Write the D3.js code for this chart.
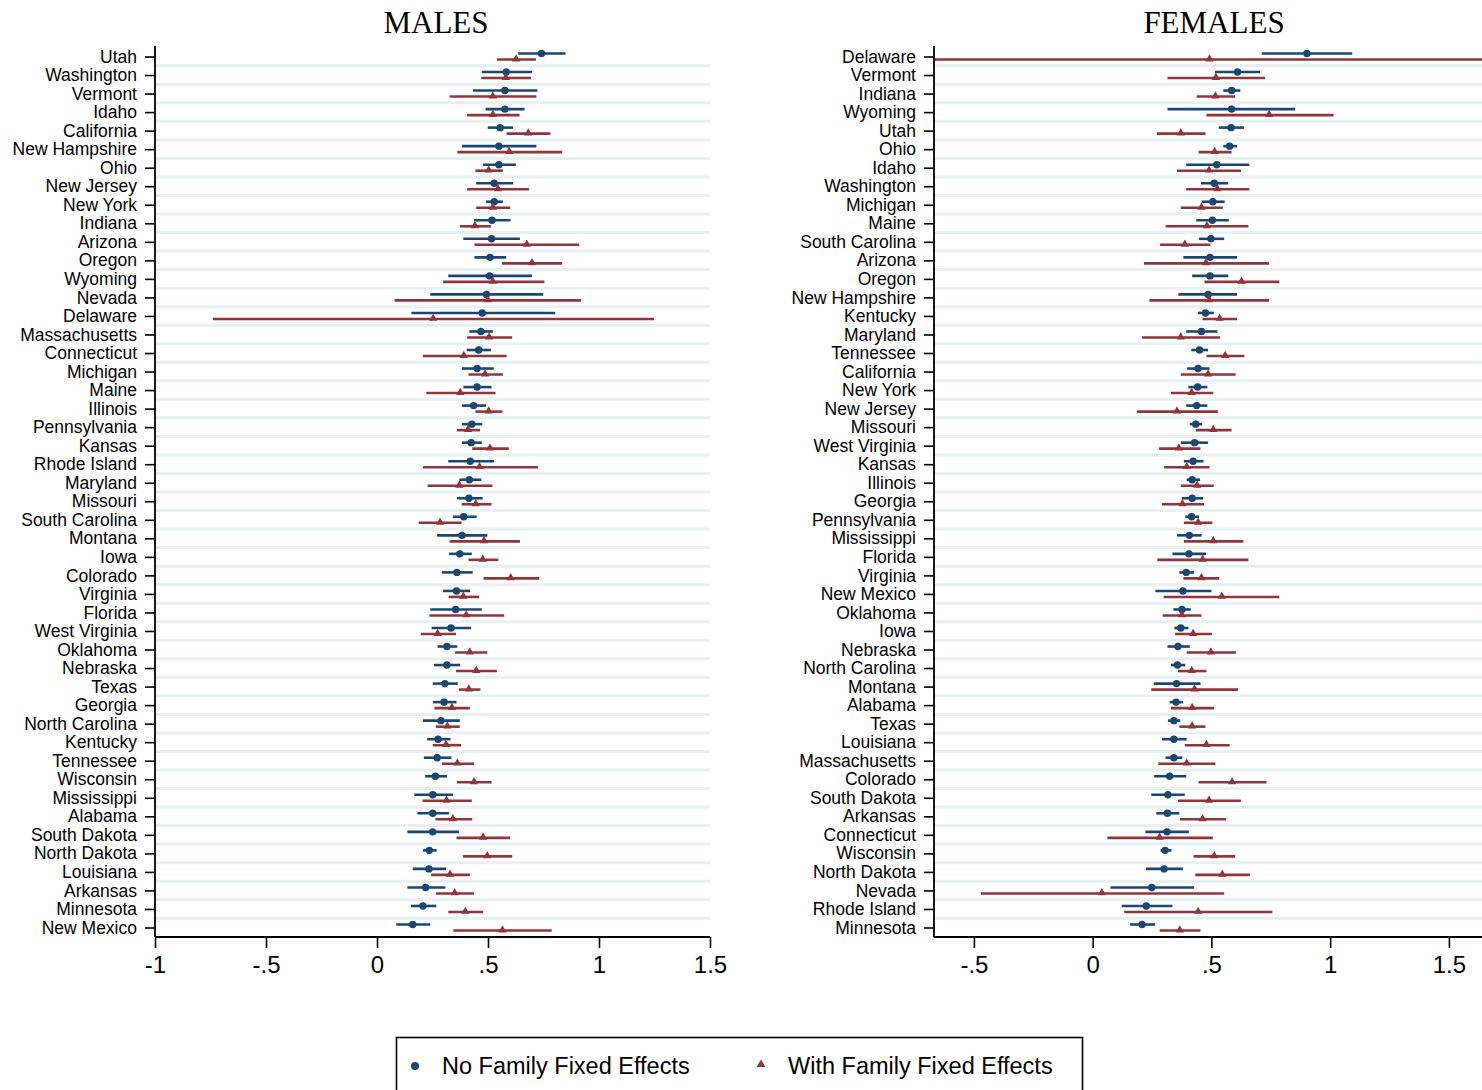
<!DOCTYPE html>
<html>
<head>
<meta charset="utf-8">
<script src="https://cdn.jsdelivr.net/npm/d3@7"></script>
<style>
  html, body { margin: 0; padding: 0; background: #fff; }
  svg { display: block; }
</style>
</head>
<body>
<svg id="chart" width="1482" height="1090"></svg>
<script>
// ---- Data: state coefficients with 95% confidence bounds ----
const maleStates = ["Utah","Washington","Vermont","Idaho","California","New Hampshire","Ohio","New Jersey","New York","Indiana","Arizona","Oregon","Wyoming","Nevada","Delaware","Massachusetts","Connecticut","Michigan","Maine","Illinois","Pennsylvania","Kansas","Rhode Island","Maryland","Missouri","South Carolina","Montana","Iowa","Colorado","Virginia","Florida","West Virginia","Oklahoma","Nebraska","Texas","Georgia","North Carolina","Kentucky","Tennessee","Wisconsin","Mississippi","Alabama","South Dakota","North Dakota","Louisiana","Arkansas","Minnesota","New Mexico"];
const maleNoFE   = [0.741,0.582,0.576,0.576,0.555,0.549,0.549,0.528,0.528,0.518,0.516,0.509,0.507,0.493,0.474,0.468,0.458,0.451,0.451,0.435,0.427,0.424,0.420,0.416,0.414,0.391,0.383,0.373,0.360,0.358,0.354,0.333,0.315,0.315,0.306,0.302,0.288,0.275,0.271,0.263,0.251,0.251,0.251,0.236,0.234,0.219,0.207,0.161];
const maleNoFELo = [0.636,0.472,0.433,0.489,0.499,0.383,0.478,0.447,0.491,0.437,0.389,0.439,0.321,0.240,0.155,0.416,0.404,0.383,0.389,0.383,0.383,0.383,0.321,0.371,0.360,0.342,0.271,0.325,0.292,0.298,0.240,0.246,0.273,0.257,0.251,0.253,0.207,0.226,0.211,0.217,0.168,0.182,0.137,0.207,0.161,0.137,0.153,0.087];
const maleNoFEHi = [0.849,0.698,0.723,0.665,0.613,0.718,0.625,0.613,0.567,0.602,0.644,0.582,0.698,0.749,0.803,0.522,0.513,0.526,0.516,0.491,0.474,0.472,0.528,0.470,0.476,0.449,0.497,0.427,0.431,0.420,0.472,0.424,0.362,0.375,0.364,0.358,0.373,0.331,0.335,0.315,0.342,0.325,0.369,0.269,0.311,0.308,0.267,0.240];
const maleFE     = [0.627,0.580,0.522,0.522,0.681,0.596,0.503,0.545,0.522,0.441,0.675,0.698,0.522,0.499,0.253,0.505,0.391,0.487,0.375,0.503,0.410,0.509,0.462,0.371,0.445,0.284,0.482,0.476,0.602,0.389,0.402,0.273,0.418,0.447,0.414,0.337,0.317,0.311,0.362,0.437,0.313,0.342,0.478,0.497,0.329,0.350,0.398,0.565];
const maleFELo   = [0.540,0.470,0.327,0.406,0.584,0.362,0.443,0.406,0.447,0.373,0.439,0.563,0.298,0.079,-0.739,0.406,0.207,0.412,0.222,0.443,0.360,0.429,0.207,0.228,0.381,0.188,0.327,0.412,0.480,0.323,0.236,0.197,0.352,0.356,0.369,0.259,0.265,0.251,0.292,0.360,0.205,0.263,0.358,0.387,0.244,0.265,0.321,0.344];
const maleFEHi   = [0.716,0.694,0.718,0.642,0.781,0.834,0.567,0.685,0.600,0.513,0.911,0.834,0.754,0.919,1.248,0.609,0.584,0.567,0.534,0.565,0.464,0.594,0.725,0.520,0.516,0.381,0.644,0.547,0.731,0.460,0.573,0.356,0.497,0.540,0.466,0.418,0.373,0.379,0.437,0.516,0.427,0.429,0.600,0.609,0.418,0.437,0.478,0.787];

const femaleStates = ["Delaware","Vermont","Indiana","Wyoming","Utah","Ohio","Idaho","Washington","Michigan","Maine","South Carolina","Arizona","Oregon","New Hampshire","Kentucky","Maryland","Tennessee","California","New York","New Jersey","Missouri","West Virginia","Kansas","Illinois","Georgia","Pennsylvania","Mississippi","Florida","Virginia","New Mexico","Oklahoma","Iowa","Nebraska","North Carolina","Montana","Alabama","Texas","Louisiana","Massachusetts","Colorado","South Dakota","Arkansas","Connecticut","Wisconsin","North Dakota","Nevada","Rhode Island","Minnesota"];
const femaleNoFE   = [0.902,0.610,0.585,0.585,0.583,0.577,0.523,0.512,0.506,0.504,0.498,0.494,0.494,0.486,0.475,0.458,0.450,0.444,0.442,0.438,0.434,0.429,0.423,0.419,0.419,0.417,0.407,0.405,0.394,0.380,0.376,0.371,0.359,0.357,0.353,0.351,0.342,0.342,0.342,0.324,0.317,0.315,0.313,0.305,0.301,0.249,0.226,0.208];
const femaleNoFELo = [0.712,0.515,0.550,0.315,0.531,0.550,0.394,0.456,0.459,0.436,0.448,0.382,0.419,0.361,0.444,0.394,0.415,0.398,0.403,0.394,0.409,0.371,0.384,0.396,0.375,0.390,0.355,0.336,0.365,0.264,0.340,0.344,0.315,0.330,0.257,0.324,0.317,0.292,0.307,0.259,0.247,0.268,0.222,0.286,0.224,0.075,0.122,0.158];
const femaleNoFEHi = [1.093,0.705,0.622,0.853,0.637,0.608,0.660,0.571,0.556,0.573,0.554,0.608,0.571,0.608,0.510,0.525,0.486,0.492,0.483,0.483,0.461,0.486,0.467,0.452,0.465,0.448,0.459,0.477,0.427,0.500,0.413,0.403,0.409,0.390,0.454,0.380,0.369,0.396,0.378,0.394,0.388,0.365,0.405,0.332,0.380,0.427,0.336,0.263];
const femaleFE     = [0.492,0.519,0.517,0.743,0.371,0.514,0.490,0.525,0.458,0.481,0.388,0.477,0.627,0.490,0.535,0.371,0.558,0.486,0.417,0.355,0.508,0.363,0.396,0.440,0.378,0.444,0.508,0.463,0.458,0.544,0.376,0.423,0.498,0.417,0.429,0.419,0.419,0.479,0.396,0.587,0.490,0.463,0.282,0.512,0.546,0.039,0.444,0.367];
const femaleFELo   = [-0.668,0.315,0.438,0.479,0.270,0.446,0.355,0.394,0.371,0.307,0.284,0.216,0.471,0.239,0.463,0.208,0.479,0.371,0.330,0.187,0.434,0.280,0.301,0.371,0.292,0.384,0.384,0.272,0.382,0.299,0.295,0.347,0.396,0.359,0.247,0.330,0.365,0.388,0.276,0.446,0.359,0.367,0.062,0.425,0.432,-0.471,0.133,0.282];
const femaleFEHi   = [1.652,0.726,0.600,1.014,0.475,0.585,0.625,0.660,0.548,0.656,0.496,0.743,0.786,0.743,0.608,0.537,0.639,0.602,0.508,0.527,0.585,0.454,0.492,0.510,0.469,0.504,0.635,0.656,0.533,0.786,0.458,0.502,0.604,0.479,0.612,0.512,0.475,0.577,0.517,0.732,0.624,0.562,0.506,0.600,0.662,0.554,0.757,0.454];

const tickValues = [-1, -0.5, 0, 0.5, 1, 1.5];
const tickLabels = ["-1", "-.5", "0", ".5", "1", "1.5"];
const panelTitles = ["MALES", "FEMALES"];
const legendLabels = ["No Family Fixed Effects", "With Family Fixed Effects"];

// ---- Styling ----
const NAVY = "#1a476f";
const MAROON = "#90353b";
const GRID = "#e8f0f2";
const SANS = "'Liberation Sans', Arial, Helvetica, sans-serif";
const SERIF = "'Liberation Serif', 'Times New Roman', Times, serif";

const svg = d3.select("#chart");
const plotTop = 46, plotBottom = 937;

function buildRows(states, b, bLo, bHi, f, fLo, fHi) {
  return states.map((s, i) => ({
    state: s, b: b[i], bLo: bLo[i], bHi: bHi[i], f: f[i], fLo: fLo[i], fHi: fHi[i]
  }));
}

function drawPanel(opts) {
  const { rows, x, left, right, title, titleX, id, ticks } = opts;
  const g = svg.append("g");

  const y = d3.scalePoint()
    .domain(rows.map(d => d.state))
    .range([56.5, 927.5]);
  const step = y.step();

  // Clip marks to the plot region
  svg.append("defs").append("clipPath").attr("id", id)
    .append("rect")
    .attr("x", left).attr("y", plotTop)
    .attr("width", right - left).attr("height", plotBottom - plotTop);

  const plot = g.append("g").attr("clip-path", `url(#${id})`);

  // Light separators between rows
  plot.selectAll("line.sep")
    .data(rows.slice(0, -1))
    .join("line")
    .attr("x1", left).attr("x2", right)
    .attr("y1", d => y(d.state) + step / 2)
    .attr("y2", d => y(d.state) + step / 2)
    .attr("stroke", GRID).attr("stroke-width", 3);

  // Confidence intervals, without family fixed effects
  plot.selectAll("line.ciB")
    .data(rows).join("line")
    .attr("x1", d => x(d.bLo)).attr("x2", d => x(d.bHi))
    .attr("y1", d => y(d.state) - 3).attr("y2", d => y(d.state) - 3)
    .attr("stroke", NAVY).attr("stroke-width", 2.6);

  // Confidence intervals, with family fixed effects
  plot.selectAll("line.ciF")
    .data(rows).join("line")
    .attr("x1", d => x(d.fLo)).attr("x2", d => x(d.fHi))
    .attr("y1", d => y(d.state) + 3).attr("y2", d => y(d.state) + 3)
    .attr("stroke", MAROON).attr("stroke-width", 2.6);

  plot.selectAll("circle.ptB")
    .data(rows).join("circle")
    .attr("cx", d => x(d.b)).attr("cy", d => y(d.state) - 3)
    .attr("r", 3.7).attr("fill", NAVY);

  const tri = d3.symbol().type(d3.symbolTriangle).size(30);
  plot.selectAll("path.ptF")
    .data(rows).join("path")
    .attr("d", tri)
    .attr("transform", d => `translate(${x(d.f)},${y(d.state) + 2.5})`)
    .attr("fill", MAROON);

  // Y axis with state names
  const yAxis = d3.axisLeft(y).tickSize(10).tickPadding(8);
  const ya = g.append("g").attr("transform", `translate(${left},0)`).call(yAxis);
  ya.select(".domain").attr("d", `M0,${plotTop}V${plotBottom}`).attr("stroke", "#000").attr("stroke-width", 1.8);
  ya.selectAll(".tick line").attr("stroke", "#000").attr("stroke-width", 1.6);
  ya.selectAll(".tick text")
    .attr("font-family", SANS).attr("font-size", 17.5).attr("fill", "#000");

  // X axis
  const xAxis = d3.axisBottom(x)
    .tickValues(ticks)
    .tickFormat(v => tickLabels[tickValues.indexOf(v)])
    .tickSize(11).tickPadding(8);
  const xa = g.append("g").attr("transform", `translate(0,${plotBottom})`).call(xAxis);
  xa.select(".domain").attr("d", `M${left},0H${right}`).attr("stroke", "#000").attr("stroke-width", 1.8);
  xa.selectAll(".tick line").attr("stroke", "#000").attr("stroke-width", 1.6);
  xa.selectAll(".tick text")
    .attr("font-family", SANS).attr("font-size", 24).attr("fill", "#000");

  // Panel title
  g.append("text")
    .attr("x", titleX).attr("y", 33)
    .attr("text-anchor", "middle")
    .attr("font-family", SERIF).attr("font-size", 31).attr("fill", "#000")
    .text(title);
}

// Males panel
const xMale = d3.scaleLinear().domain([-1, 1.5]).range([155, 710]);
drawPanel({
  rows: buildRows(maleStates, maleNoFE, maleNoFELo, maleNoFEHi, maleFE, maleFELo, maleFEHi),
  x: xMale, left: 155, right: 710, title: panelTitles[0], titleX: 436, id: "clipM",
  ticks: tickValues
});

// Females panel (axis spans the widest interval)
const xFemale = d3.scaleLinear().domain([-0.668, 1.652]).range([934, 1485]);
drawPanel({
  rows: buildRows(femaleStates, femaleNoFE, femaleNoFELo, femaleNoFEHi, femaleFE, femaleFELo, femaleFEHi),
  x: xFemale, left: 934, right: 1485, title: panelTitles[1], titleX: 1214, id: "clipF",
  ticks: tickValues.slice(1)
});

// Legend
const legend = svg.append("g");
legend.append("rect")
  .attr("x", 396.5).attr("y", 1037.5).attr("width", 686).attr("height", 70)
  .attr("fill", "#fff").attr("stroke", "#000").attr("stroke-width", 1.6);
legend.append("circle").attr("cx", 415).attr("cy", 1066).attr("r", 4).attr("fill", NAVY);
legend.append("path")
  .attr("d", d3.symbol().type(d3.symbolTriangle).size(34))
  .attr("transform", "translate(761,1064.5)").attr("fill", MAROON);
legend.append("text").attr("x", 442).attr("y", 1074)
  .attr("font-family", SANS).attr("font-size", 23.5).attr("fill", "#000")
  .text(legendLabels[0]);
legend.append("text").attr("x", 788).attr("y", 1074)
  .attr("font-family", SANS).attr("font-size", 23.5).attr("fill", "#000")
  .text(legendLabels[1]);
</script>
</body>
</html>
